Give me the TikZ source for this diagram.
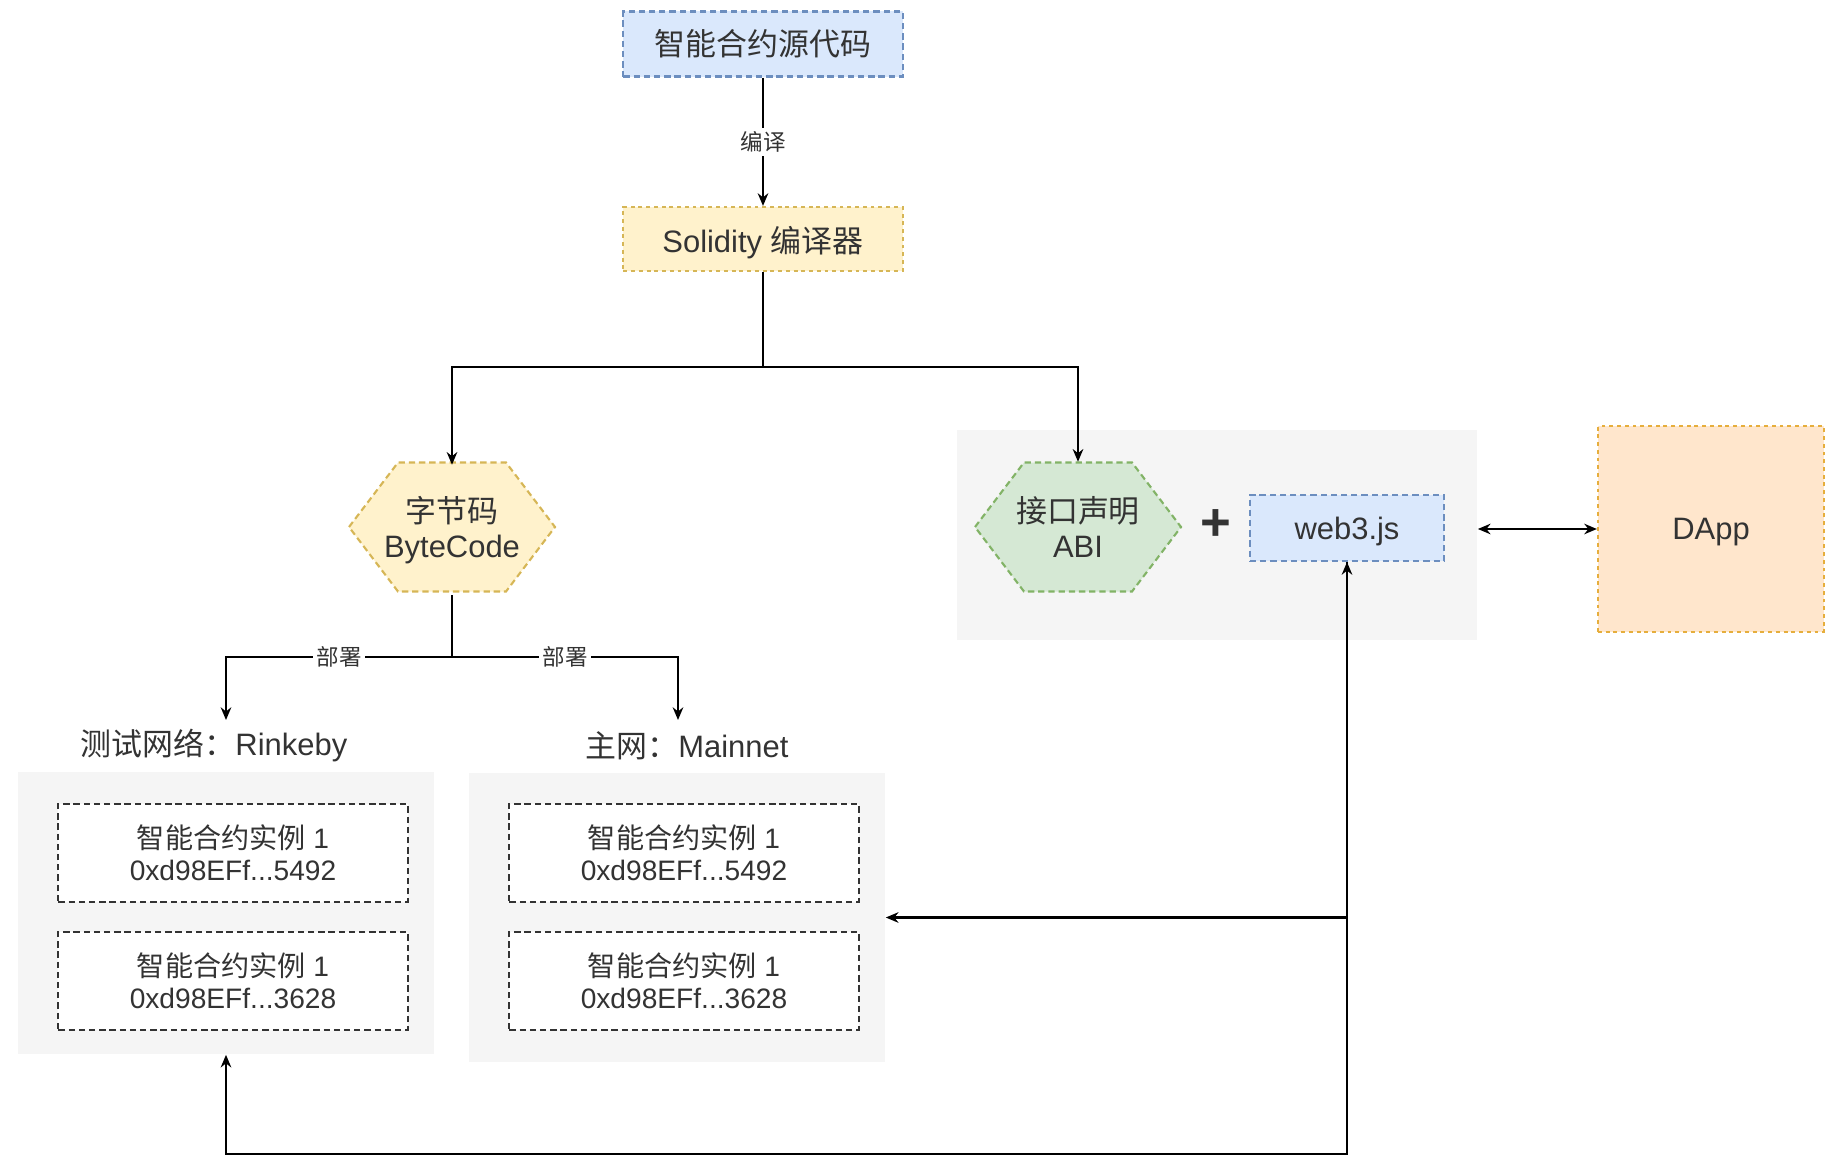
\documentclass[tikz,border=0pt]{standalone}
\usepackage{fontspec}
\setmainfont{Liberation Sans}
\newfontfamily\cjk{Noto Sans CJK SC}
\usetikzlibrary{arrows.meta}
\definecolor{txt}{HTML}{333333}
\definecolor{blueFill}{HTML}{DAE8FC}
\definecolor{blueLine}{HTML}{6C8EBF}
\definecolor{yelFill}{HTML}{FFF2CC}
\definecolor{yelLine}{HTML}{D6B656}
\definecolor{greenFill}{HTML}{D5E8D4}
\definecolor{greenLine}{HTML}{82B366}
\definecolor{orFill}{HTML}{FFE6CC}
\definecolor{orLine}{HTML}{E6AE3C}
\definecolor{panelFill}{HTML}{F5F5F5}
\begin{document}
\begin{tikzpicture}[x=0.01cm, y=-0.01cm,
    every node/.style={text=txt, inner sep=0pt, align=center, font=\fontsize{8.8}{10}\selectfont},
    boxline/.style={line width=.6pt, dash pattern=on 1.8pt off 1.1pt},
    dotline/.style={line width=.6pt, dash pattern=on 1.1pt off 1.1pt},
    panel/.style={fill=panelFill},
    inst/.style={draw=txt, fill=white, boxline, minimum width=3.49cm, minimum height=.98cm, font=\fontsize{8}{9.2}\selectfont},
    hexnode/.style={minimum width=2.06cm, minimum height=1.29cm},
    lbl/.style={fill=white, inner sep=1pt, font=\fontsize{6.4}{7}\selectfont},
    arr/.style={line width=.6pt, -{Stealth[length=3.6pt,width=3pt]}},
    dblarr/.style={line width=.6pt, {Stealth[length=3.6pt,width=3pt]}-{Stealth[length=3.6pt,width=3pt]}}]
  \useasboundingbox (0,0) rectangle (1848,1176);

  % compile chain
  \node [draw=blueLine,fill=blueFill,boxline,minimum width=2.79cm,minimum height=.65cm] (src) at (763,44) {\cjk 智能合约源代码};
  \node [draw=yelLine,fill=yelFill,dotline,minimum width=2.79cm,minimum height=.64cm,text depth=0pt] (sol) at (763,239) {Solidity {\cjk 编译器}};

  % bytecode
  \filldraw [draw=yelLine,fill=yelFill,boxline] (452,527) +(-103,0) -- +(-54,-64.5) -- +(54,-64.5) -- +(103,0) -- +(54,64.5) -- +(-54,64.5) -- cycle;
  \node [hexnode] (bc) at (452,530) {{\cjk 字节码}\\ByteCode};

  % abi + web3
  \node [panel,minimum width=5.2cm,minimum height=2.1cm] (gpanel) at (1217,535) {};
  \filldraw [draw=greenLine,fill=greenFill,boxline] (1078,527) +(-103,0) -- +(-54,-64.5) -- +(54,-64.5) -- +(103,0) -- +(54,64.5) -- +(-54,64.5) -- cycle;
  \node [hexnode] (abi) at (1078,527) {{\cjk 接口声明}\\ABI};
  \node [font=\fontsize{15}{15}\bfseries\selectfont] (plus) at (1216,525) {+};
  \node [draw=blueLine,fill=blueFill,boxline,minimum width=1.94cm,minimum height=.66cm,text depth=0pt] (web3) at (1347,528) {web3.js};
  \node [draw=orLine,fill=orFill,dotline,minimum width=2.26cm,minimum height=2.05cm,text depth=0pt] (dapp) at (1711,529) {DApp};

  % networks
  \node (tlbl) at (214,746) {{\cjk 测试网络：}Rinkeby};
  \node (mlbl) at (687,746) {{\cjk 主网：}Mainnet};
  \node [panel,minimum width=4.16cm,minimum height=2.82cm] (tpanel) at (226,913) {};
  \node [panel,minimum width=4.16cm,minimum height=2.89cm] (mpanel) at (677,917.5) {};
  \node [inst] (t1) at (233,853) {{\cjk 智能合约实例} 1\\0xd98EFf...5492};
  \node [inst] (t2) at (233,981) {{\cjk 智能合约实例} 1\\0xd98EFf...3628};
  \node [inst] (m1) at (684,853) {{\cjk 智能合约实例} 1\\0xd98EFf...5492};
  \node [inst] (m2) at (684,981) {{\cjk 智能合约实例} 1\\0xd98EFf...3628};

  \coordinate (split) at (763,367);
  \coordinate (dep) at (452,657);
  \coordinate (tarr) at (226,720);
  \coordinate (marr) at (678,720);

  \draw [arr] (src) -- node [lbl] {\cjk 编译} (sol);
  \draw [line width=.6pt] (sol) -- (split);
  \draw [arr] (split) -| (bc);
  \draw [arr] (split) -| (abi);
  \draw [line width=.6pt] (bc) -- (dep);
  \draw [arr] (dep) -| node [lbl,pos=.25] {\cjk 部署} (tarr);
  \draw [arr] (dep) -| node [lbl,pos=.25] {\cjk 部署} (marr);
  \draw [dblarr] (gpanel.east |- dapp.west) -- (dapp.west);
  \draw [arr] (web3.south) |- (mpanel.east);
  \draw [dblarr] (tpanel.south) -- ++(0,99) -| (web3.south);
\end{tikzpicture}
\end{document}
